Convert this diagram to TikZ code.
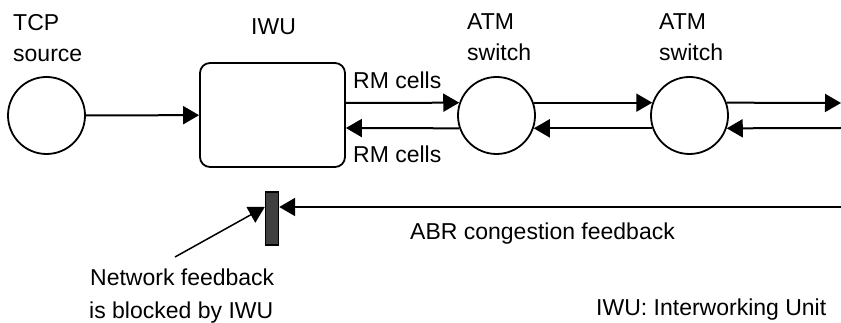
\documentclass[tikz,border=0pt]{standalone}
\usepackage{fontspec}
\setmainfont{Liberation Sans}
\usetikzlibrary{arrows.meta}
\begin{document}
\begin{tikzpicture}[x=1pt,y=-1pt,
  lbl/.style={anchor=base west,inner sep=0pt,font=\fontsize{23}{27}\selectfont},
  conn/.style={line width=2pt,-{Triangle[length=16pt,width=18pt]}},
  station/.style={circle,draw,line width=1.8pt,minimum size=77pt,inner sep=0pt},
  unit/.style={rectangle,draw,rounded corners=10pt,line width=1.8pt,minimum width=145pt,minimum height=104pt,inner sep=0pt},
  blocker/.style={rectangle,draw=black,fill=black!75,line width=1.4pt,minimum width=13pt,minimum height=53pt,inner sep=0pt}
]
\useasboundingbox (0,0) rectangle (841,323);

% nodes
\node[station] (tcp) at (46.5,115.5) {};
\node[unit] (iwu) at (272.5,115) {};
\node[station] (atm1) at (496.5,115.5) {};
\node[station] (atm2) at (689.5,115.5) {};
\node[blocker] (bar) at (272,218.5) {};

% helper coordinates
\coordinate (yup) at (0,103);
\coordinate (ydn) at (0,128);
\coordinate (yfb) at (0,207);
\coordinate (rightup) at (841,103);
\coordinate (rightdn) at (841,128);
\coordinate (rightfb) at (841,207);
\coordinate (diagstart) at (175,257);

% labels
\node[lbl] (tcpa) at (13,31) {TCP};
\node[lbl] (tcpb) at (13,62) {source};
\node[lbl] (iwul) at (251,35) {IWU};
\node[lbl] (atm1a) at (467,30) {ATM};
\node[lbl] (atm1b) at (467,61) {switch};
\node[lbl] (atm2a) at (659,30) {ATM};
\node[lbl] (atm2b) at (659,61) {switch};
\node[lbl] (rmup) at (353,89) {RM cells};
\node[lbl] (rmdn) at (353,163) {RM cells};
\node[lbl] (abr) at (410,240) {ABR congestion feedback};
\node[lbl] (nfa) at (90,285) {Network feedback};
\node[lbl] (nfb) at (89,318) {is blocked by IWU};
\node[lbl] (legend) at (596,315) {IWU: Interworking Unit};

% connectors
\draw[conn] (tcp) -- (iwu);
\draw[conn] (iwu.east |- yup) -- (atm1.161);
\draw[conn] (atm1.199) -- (iwu.east |- ydn);
\draw[conn] (atm1.19) -- (atm2.161);
\draw[conn] (atm2.199) -- (atm1.-19);
\draw[conn] (atm2.19) -- (rightup);
\draw[conn] (rightdn) -- (atm2.-19);
\draw[conn] (rightfb) -- (bar.east |- yfb);
\draw[conn,line width=1.5pt] (diagstart) -- (bar.west |- yfb);
\end{tikzpicture}
\end{document}
